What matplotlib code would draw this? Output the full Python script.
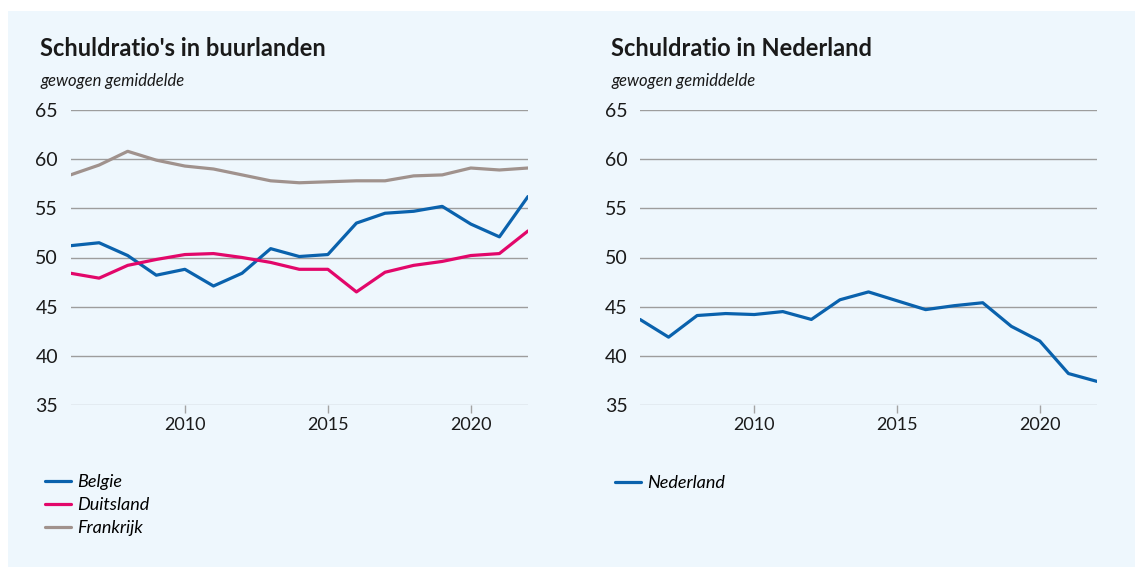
import matplotlib
matplotlib.use("Agg")
import matplotlib.pyplot as plt
from matplotlib.patches import Rectangle

# data
years = list(range(2006, 2023))
belgie = [51.2, 51.5, 50.2, 48.2, 48.8, 47.1, 48.4, 50.9, 50.1, 50.3,
          53.5, 54.5, 54.7, 55.2, 53.4, 52.1, 56.2]
duitsland = [48.4, 47.9, 49.2, 49.8, 50.3, 50.4, 50.0, 49.5, 48.8, 48.8,
             46.5, 48.5, 49.2, 49.6, 50.2, 50.4, 52.7]
frankrijk = [58.4, 59.4, 60.8, 59.9, 59.3, 59.0, 58.4, 57.8, 57.6, 57.7,
             57.8, 57.8, 58.3, 58.4, 59.1, 58.9, 59.1]
nederland = [43.7, 41.9, 44.1, 44.3, 44.2, 44.5, 43.7, 45.7, 46.5, 45.6,
             44.7, 45.1, 45.4, 43.0, 41.5, 38.2, 37.4]

yticks = [35, 40, 45, 50, 55, 60, 65]
xticks = [2010, 2015, 2020]

BG = "#eef7fd"
BLUE = "#0a62ad"
PINK = "#e2076a"
GREY = "#a0928d"
TXT = "#1a1a1a"

plt.rcParams["font.family"] = ["Lato", "DejaVu Sans"]

W, H = 1135, 567
fig = plt.figure(figsize=(W / 100, H / 100), dpi=100, facecolor="white")
fig.patches.append(Rectangle((8 / W, 0), 1 - 8 / W, (H - 11) / H,
                             transform=fig.transFigure, facecolor=BG,
                             edgecolor="none", zorder=-10))


def make_axes(x0, x1):
    top, bot = 110, 405
    ax = fig.add_axes([x0 / W, 1 - bot / H, (x1 - x0) / W, (bot - top) / H])
    ax.set_facecolor("none")
    ax.set_xlim(2006, 2022)
    ax.set_ylim(35, 65)
    for s in ax.spines.values():
        s.set_visible(False)
    ax.set_yticks(yticks)
    ax.set_xticks(xticks)
    ax.grid(axis="y", color="#9d9d9d", linewidth=1.0)
    # bottom line is a bit lighter in the original
    ax.get_ygridlines()[0].set_color("#b8bcc0")
    ax.tick_params(axis="y", length=0, pad=9, labelsize=14, labelcolor=TXT)
    ax.tick_params(axis="x", length=6, width=1, color="#a3a3a3", pad=3,
                   labelsize=13, labelcolor=TXT)
    return ax


ax1 = make_axes(70.5, 528)
l1, = ax1.plot(years, belgie, color=BLUE, lw=2.3, solid_capstyle="round")
l2, = ax1.plot(years, duitsland, color=PINK, lw=2.3, solid_capstyle="round")
l3, = ax1.plot(years, frankrijk, color=GREY, lw=2.3, solid_capstyle="round")

ax2 = make_axes(640, 1097)
l4, = ax2.plot(years, nederland, color=BLUE, lw=2.3, solid_capstyle="round")

for x0, title in [(40, "Schuldratio's in buurlanden"), (611, "Schuldratio in Nederland")]:
    fig.text(x0 / W, 1 - 49 / H, title, fontsize=17, fontweight="bold",
             color=TXT, va="center", ha="left")
    fig.text(x0 / W, 1 - 81 / H, "gewogen gemiddelde", fontsize=12,
             style="italic", color=TXT, va="center", ha="left")

leg_kw = dict(frameon=False, loc="upper left", handlelength=1.4,
              handletextpad=0.35, labelspacing=0.38, borderaxespad=0,
              prop={"style": "italic", "size": 13})
fig.legend([l1, l2, l3], ["Belgie", "Duitsland", "Frankrijk"],
           bbox_to_anchor=(38 / W, 1 - 467 / H), **leg_kw)
fig.legend([l4], ["Nederland"],
           bbox_to_anchor=(608 / W, 1 - 468 / H), **leg_kw)

fig.savefig("out.png", dpi=100, facecolor="white")
